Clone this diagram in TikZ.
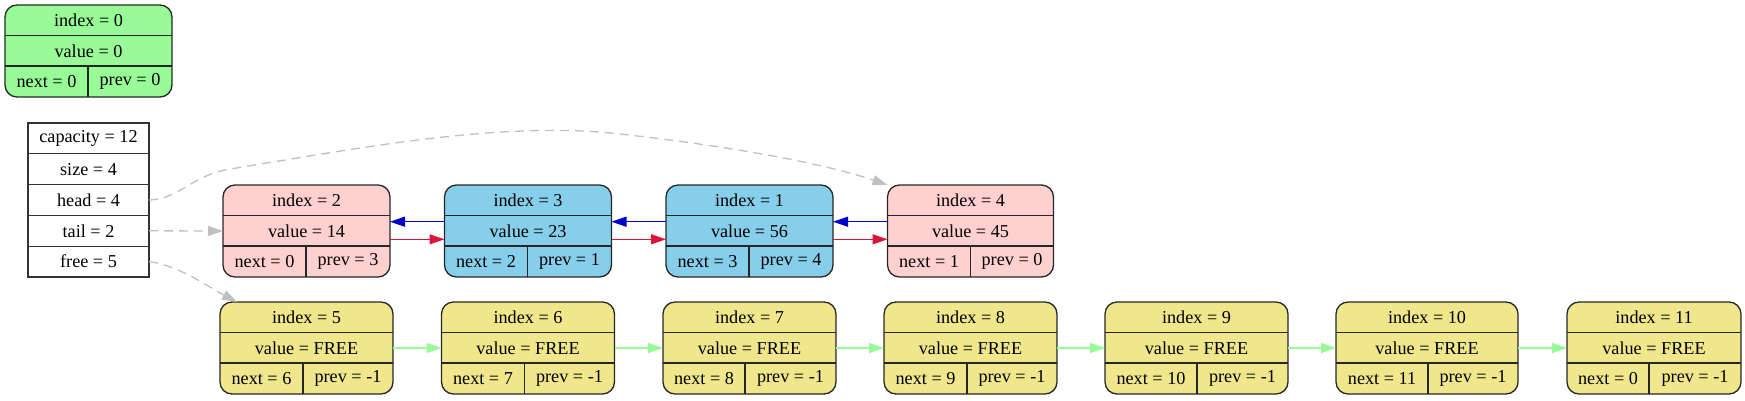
\documentclass[tikz,border=0pt]{standalone}
\usepackage{fontspec}
\setmainfont{Liberation Serif}
\usepackage{xcolor}
\usepackage{tikz}
\usetikzlibrary{calc,positioning,arrows.meta}

\definecolor{usedpink}{HTML}{FFD0D0}
\definecolor{usedblue}{HTML}{87CEEB}
\definecolor{freeyellow}{HTML}{F0E68C}
\definecolor{sentgreen}{HTML}{98FB98}
\definecolor{nextblue}{HTML}{0000CD}
\definecolor{prevred}{HTML}{DC143C}
\definecolor{ptrgray}{HTML}{C0C0C0}

% one slot: index, left, top, width, split, fill, value, next, prev
\newcommand{\listslot}[9]{%
  \node[record, fill=#6, minimum width=#4pt] (n#1) at (#2,#3) {};
  \draw[inner line] ($(n#1.north west)+(0,30.5)$) -- ($(n#1.north east)+(0,30.5)$);
  \draw[inner line] ($(n#1.north west)+(0,61)$) -- ($(n#1.north east)+(0,61)$);
  \draw[inner line] ($(n#1.north west)+(#5,61)$) -- ($(n#1.north west)+(#5,92)$);
  \node (n#1idx) at ($(n#1.north)+(0,15.5)$) {index = #1};
  \node (n#1val) at ($(n#1.north)+(0,46)$) {value = #7};
  \node (n#1nxt) at ($(n#1.north west)+(#5/2,76.5)$) {next = #8};
  \node (n#1prv) at ($(n#1.north west)+(#5/2+#4/2,76.5)$) {prev = #9};
}

\begin{document}
\begin{tikzpicture}[
	%	style def
    x=1pt, y=-1pt,
    every node/.style={font=\fontsize{18.2}{21}\selectfont},
    record/.style={draw=black!85, line width=1.3pt, rounded corners=12pt, anchor=north west,
      minimum height=92pt, inner sep=0pt, outer sep=0pt},
    inner line/.style={draw=black!85, line width=1.3pt},
    field/.style={draw=black!80, fill=white, line width=1.1pt, minimum width=121pt,
      minimum height=30.8pt, inner sep=0pt, outer sep=0pt},
    header ptr/.style={draw=ptrgray, line width=1.3pt, dashed, dash pattern=on 9pt off 6pt,
      -{Triangle[length=15pt,width=10pt]}},
    next ptr/.style={draw=nextblue, line width=1.3pt, -{Triangle[length=15pt,width=10pt]}},
    prev ptr/.style={draw=prevred, line width=1.3pt, -{Triangle[length=15pt,width=10pt]}},
    free ptr/.style={draw=sentgreen, line width=1.3pt, -{Triangle[length=15pt,width=10pt]}}
    ]
    \useasboundingbox (0,0) rectangle (1745,400);

    % sentinel
    \listslot{0}{5}{5}{167}{83}{sentgreen}{0}{0}{0}

    % list header
    \node[field] (cap) at (88.5,138.4) {capacity = 12};
    \node[field, below=0pt of cap] (size) {size = 4};
    \node[field, below=0pt of size] (head) {head = 4};
    \node[field, below=0pt of head] (tail) {tail = 2};
    \node[field, below=0pt of tail] (free) {free = 5};

    % used slots
    \listslot{2}{223}{185}{167}{83}{usedpink}{14}{0}{3}
    \listslot{3}{444.5}{185}{167}{83}{usedblue}{23}{2}{1}
    \listslot{1}{666}{185}{167}{83}{usedblue}{56}{3}{4}
    \listslot{4}{887.5}{185}{166}{83}{usedpink}{45}{1}{0}

    % free slots
    \listslot{5}{220}{302}{173}{83}{freeyellow}{FREE}{6}{-1}
    \listslot{6}{441.5}{302}{173}{83}{freeyellow}{FREE}{7}{-1}
    \listslot{7}{663}{302}{173}{82}{freeyellow}{FREE}{8}{-1}
    \listslot{8}{884}{302}{173}{83}{freeyellow}{FREE}{9}{-1}
    \listslot{9}{1105}{302}{183}{92}{freeyellow}{FREE}{10}{-1}
    \listslot{10}{1336}{302}{182}{92}{freeyellow}{FREE}{11}{-1}
    \listslot{11}{1567}{302}{174}{82}{freeyellow}{FREE}{0}{-1}

    % header pointers
    \draw[header ptr] (head.east) .. controls (180,199) and (190,176) .. (230,169)
        .. controls (350,150) and (500,120) .. (620,134)
        .. controls (720,145) and (820,162) .. (n4.north west);
    \draw[header ptr] (tail.east) -- (n2.west);
    \draw[header ptr] (free.east) .. controls (180,266) and (205,285) .. ([xshift=17pt]n5.north west);

    % links between slots
    \foreach \a/\b in {4/1,1/3,3/2}
        \draw[next ptr] ([yshift=9.3pt]n\a.west) -- ([yshift=9.3pt]n\b.east);
    \foreach \a/\b in {2/3,3/1,1/4}
        \draw[prev ptr] ([yshift=-8.3pt]n\a.east) -- ([yshift=-8.3pt]n\b.west);
    \foreach \a/\b in {5/6,6/7,7/8,8/9,9/10,10/11}
        \draw[free ptr] (n\a.east) -- (n\b.west);

\end{tikzpicture}
\end{document}
